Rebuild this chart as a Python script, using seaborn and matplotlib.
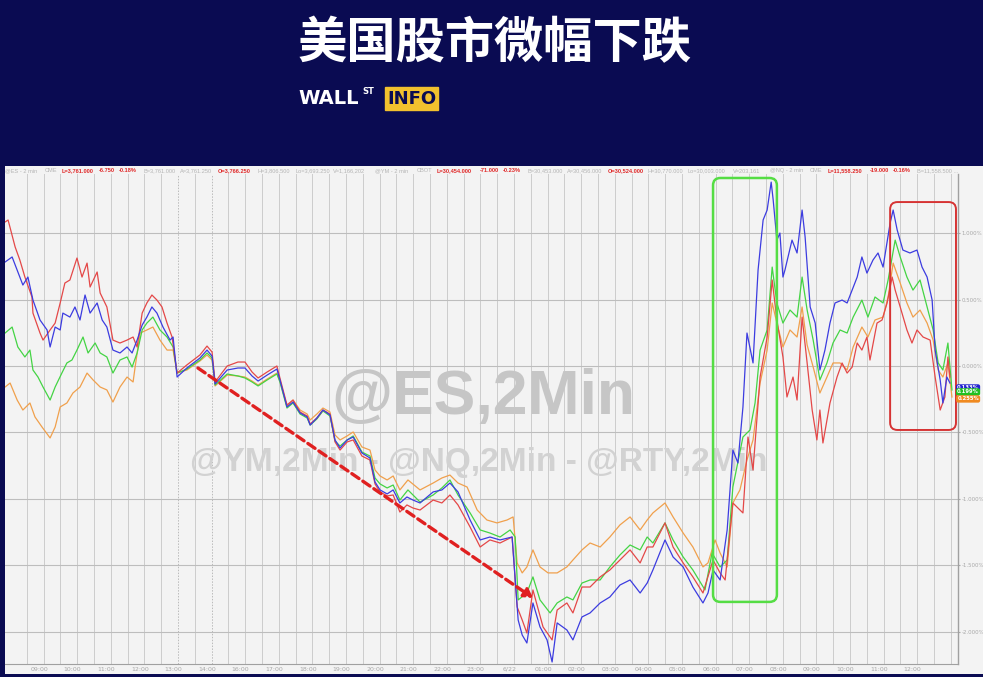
import matplotlib
matplotlib.use("Agg")
import matplotlib.pyplot as plt
from matplotlib.patches import Rectangle, FancyBboxPatch
import seaborn as sns
import pandas as pd

# ---------------- data (hours from 09:00 slot, % change) ----------------
x_labels = ['09:00','10:00','11:00','12:00','13:00','14:00','16:00','17:00','18:00','19:00',
            '20:00','21:00','22:00','23:00','6/22','01:00','02:00','03:00','04:00','05:00',
            '06:00','07:00','08:00','09:00','10:00','11:00','12:00']
y_ticks = [-2.0, -1.5, -1.0, -0.5, 0.0, 0.5, 1.0]

red_t = [-1.01,-0.92,-0.71,-0.57,-0.42,-0.21,-0.18,0.03,0.12,0.33,0.48,0.63,0.77,0.92,1.13,1.28,1.43,1.52,1.73,1.82,
         2.02,2.20,2.41,2.62,2.80,2.92,3.07,3.21,3.36,3.51,3.66,3.81,3.96,4.11,4.40,4.79,5.00,5.15,5.24,5.60,
         5.92,6.13,6.34,6.52,6.79,7.08,7.17,7.38,7.56,7.77,7.98,8.07,8.27,8.45,8.66,8.81,8.96,9.17,9.35,9.61,
         9.85,10.00,10.15,10.36,10.54,10.74,10.95,11.13,11.34,11.73,11.99,12.23,12.47,12.83,13.13,13.42,13.72,14.08,14.23,14.38,
         14.52,14.70,15.00,15.27,15.42,15.71,15.89,16.16,16.40,16.70,16.99,17.29,17.59,17.89,18.10,18.27,18.63,18.87,19.17,19.46,
         19.76,20.06,20.27,20.42,20.65,20.95,21.10,21.25,21.46,21.67,21.82,21.96,22.14,22.26,22.44,22.56,22.71,22.86,23.01,23.15,
         23.24,23.33,23.54,23.75,23.90,24.05,24.20,24.35,24.49,24.64,24.73,24.94,25.09,25.24,25.39,25.48,25.63,25.83,25.98,26.13,
         26.31,26.52,26.67,26.82,26.96,27.05,27.11]
red_v = [1.083,1.098,0.895,0.797,0.669,0.519,0.398,0.248,0.195,0.271,0.323,0.474,0.624,0.647,0.812,0.669,0.774,0.594,0.707,0.549,
         0.444,0.195,0.173,0.195,0.218,0.143,0.398,0.474,0.534,0.496,0.444,0.323,0.218,-0.053,0.008,0.083,0.150,0.105,-0.120,0.000,
         0.030,0.030,-0.045,-0.090,-0.045,0.000,-0.090,-0.293,-0.256,-0.346,-0.376,-0.436,-0.391,-0.331,-0.361,-0.571,-0.632,-0.571,-0.556,-0.677,
         -0.707,-0.887,-0.947,-0.977,-0.970,-1.098,-1.045,-1.068,-1.083,-1.008,-1.030,-0.970,-1.045,-1.211,-1.361,-1.308,-1.331,-1.286,-1.812,-1.910,
         -2.008,-1.684,-1.962,-2.060,-1.835,-1.782,-1.857,-1.662,-1.662,-1.586,-1.534,-1.459,-1.383,-1.481,-1.361,-1.361,-1.180,-1.361,-1.481,-1.586,
         -1.707,-1.459,-1.556,-1.609,-1.030,-1.105,-0.534,-0.782,-0.083,0.218,0.647,0.346,0.068,-0.233,-0.083,-0.256,0.368,0.023,-0.331,-0.556,
         -0.331,-0.579,-0.278,-0.083,0.023,-0.053,-0.008,0.173,0.120,0.218,0.045,0.323,0.346,0.474,0.669,0.571,0.444,0.271,0.173,0.271,
         0.218,0.195,-0.083,-0.331,-0.233,0.068,-0.083]

blue_t = [-1.01,-0.80,-0.65,-0.48,-0.33,-0.18,0.03,0.24,0.33,0.48,0.63,0.71,0.92,1.07,1.22,1.37,1.52,1.73,1.88,2.02,
          2.20,2.41,2.62,2.77,2.92,3.07,3.21,3.36,3.51,3.69,3.90,3.99,4.11,4.40,4.79,5.00,5.15,5.24,5.60,5.92,
          6.13,6.34,6.52,6.79,7.08,7.17,7.38,7.56,7.77,7.98,8.07,8.27,8.45,8.66,8.81,8.96,9.17,9.35,9.61,9.85,
          10.00,10.15,10.36,10.54,10.74,10.95,11.13,11.34,11.73,11.99,12.23,12.47,12.83,13.13,13.42,13.72,14.08,14.26,14.38,14.52,
          14.70,14.91,15.12,15.27,15.42,15.71,15.89,16.16,16.40,16.70,16.99,17.29,17.59,17.89,18.10,18.27,18.63,18.87,19.17,19.46,
          19.76,19.91,20.06,20.27,20.48,20.65,20.80,20.95,21.07,21.25,21.40,21.55,21.67,21.79,21.85,21.96,22.05,22.14,22.20,22.41,
          22.56,22.71,22.80,22.95,23.10,23.24,23.39,23.54,23.69,23.90,24.05,24.20,24.35,24.49,24.64,24.82,24.97,25.12,25.33,25.42,
          25.54,25.71,25.92,26.13,26.28,26.43,26.58,26.67,26.82,26.90,27.02,27.11]
blue_v = [0.782,0.820,0.722,0.609,0.669,0.496,0.346,0.271,0.143,0.293,0.271,0.398,0.368,0.444,0.346,0.534,0.398,0.474,0.346,0.293,
          0.120,0.098,0.143,0.098,0.195,0.308,0.368,0.444,0.398,0.293,0.195,0.218,-0.083,-0.015,0.060,0.120,0.075,-0.135,-0.030,-0.015,
          -0.015,-0.075,-0.113,-0.068,-0.023,-0.105,-0.308,-0.271,-0.353,-0.383,-0.444,-0.391,-0.331,-0.368,-0.556,-0.617,-0.556,-0.534,-0.654,-0.692,
          -0.872,-0.932,-0.962,-0.932,-1.030,-0.985,-1.008,-1.030,-0.947,-0.932,-0.880,-0.947,-1.158,-1.308,-1.286,-1.308,-1.286,-1.910,-2.023,-2.083,
          -1.782,-1.962,-2.060,-2.226,-1.932,-1.985,-2.060,-1.887,-1.857,-1.782,-1.737,-1.647,-1.609,-1.707,-1.632,-1.534,-1.308,-1.436,-1.511,-1.662,
          -1.782,-1.707,-1.534,-1.609,-1.233,-0.632,-0.729,-0.308,0.248,0.023,0.722,1.098,1.173,1.383,1.248,0.947,1.000,0.669,0.722,0.947,
          0.850,1.173,0.970,0.444,0.323,-0.030,0.120,0.323,0.474,0.496,0.474,0.571,0.669,0.820,0.699,0.797,0.850,0.744,1.075,1.173,
          1.023,0.872,0.850,0.872,0.744,0.669,0.496,0.120,-0.105,-0.278,-0.083,-0.128]

green_t = [-1.01,-0.80,-0.63,-0.42,-0.27,-0.18,-0.03,0.12,0.33,0.48,0.68,0.83,0.98,1.13,1.31,1.46,1.67,1.82,2.02,2.20,
           2.41,2.62,2.77,2.92,3.07,3.21,3.39,3.60,3.81,3.99,4.11,4.40,4.79,5.00,5.15,5.24,5.60,5.92,6.13,6.34,
           6.52,6.79,7.08,7.17,7.38,7.56,7.77,7.98,8.07,8.27,8.45,8.66,8.81,8.96,9.17,9.35,9.61,9.85,10.00,10.15,
           10.36,10.54,10.74,10.98,11.34,11.73,11.99,12.23,12.47,12.83,13.13,13.42,13.72,14.02,14.17,14.26,14.52,14.70,14.91,15.21,
           15.42,15.71,15.89,16.16,16.40,16.70,16.99,17.29,17.59,17.89,18.10,18.27,18.63,18.87,19.17,19.46,19.82,20.03,20.27,20.48,
           20.65,20.95,21.16,21.31,21.46,21.67,21.82,21.96,22.14,22.35,22.56,22.71,22.86,23.04,23.24,23.45,23.63,23.84,24.05,24.23,
           24.49,24.67,24.88,25.12,25.27,25.48,25.63,25.83,26.01,26.22,26.43,26.61,26.76,26.90,27.05,27.17]
green_v = [0.248,0.293,0.143,0.068,0.120,-0.030,-0.083,-0.158,-0.256,-0.158,-0.053,0.023,0.045,0.120,0.218,0.098,0.173,0.098,0.068,-0.053,
           0.045,0.068,-0.008,0.098,0.271,0.323,0.368,0.271,0.218,0.143,-0.053,-0.023,0.045,0.098,0.060,-0.143,-0.060,-0.075,-0.090,-0.120,
           -0.150,-0.105,-0.060,-0.120,-0.316,-0.278,-0.361,-0.391,-0.444,-0.398,-0.338,-0.376,-0.564,-0.602,-0.556,-0.526,-0.647,-0.677,-0.842,-0.887,
           -0.917,-0.895,-1.008,-0.932,-1.023,-0.970,-0.917,-0.857,-0.970,-1.105,-1.233,-1.256,-1.286,-1.233,-1.286,-1.759,-1.707,-1.586,-1.759,-1.857,
           -1.782,-1.737,-1.759,-1.632,-1.609,-1.609,-1.511,-1.421,-1.346,-1.383,-1.286,-1.331,-1.180,-1.308,-1.436,-1.534,-1.684,-1.406,-1.511,-1.459,
           -0.910,-0.534,-0.481,-0.278,0.120,0.271,0.744,0.474,0.323,0.421,0.368,0.669,0.421,0.195,-0.105,0.023,0.173,0.271,0.248,0.368,
           0.496,0.368,0.519,0.474,0.647,0.947,0.820,0.669,0.571,0.647,0.444,0.271,0.023,-0.030,0.173,-0.180]

orange_t = [-1.01,-0.86,-0.65,-0.48,-0.27,-0.12,0.09,0.33,0.48,0.63,0.83,1.01,1.22,1.43,1.61,1.82,2.02,2.20,2.41,2.62,
            2.80,2.86,3.01,3.21,3.39,3.60,3.81,3.99,4.11,4.40,4.79,5.00,5.15,5.24,5.60,5.92,6.13,6.34,6.52,6.79,
            7.08,7.17,7.38,7.56,7.77,7.98,8.07,8.27,8.45,8.66,8.81,8.96,9.17,9.35,9.61,9.85,10.00,10.15,10.36,10.54,
            10.74,10.98,11.34,11.73,11.99,12.23,12.47,12.74,13.04,13.33,13.63,13.93,14.11,14.23,14.38,14.52,14.70,14.91,15.15,15.42,
            15.71,15.89,16.16,16.40,16.70,16.99,17.29,17.59,17.89,18.10,18.27,18.63,18.87,19.17,19.46,19.76,19.91,20.12,20.27,20.48,
            20.65,20.86,21.07,21.25,21.46,21.67,21.82,21.96,22.14,22.35,22.56,22.71,22.86,23.04,23.24,23.45,23.63,23.84,24.05,24.23,
            24.49,24.67,24.88,25.12,25.27,25.42,25.63,25.83,26.01,26.22,26.43,26.61,26.76,26.90,27.05,27.17]
orange_v = [-0.158,-0.128,-0.256,-0.331,-0.278,-0.383,-0.459,-0.541,-0.459,-0.308,-0.278,-0.203,-0.158,-0.053,-0.105,-0.158,-0.180,-0.271,-0.158,-0.083,
            -0.120,-0.008,0.248,0.271,0.293,0.195,0.120,0.120,-0.053,-0.030,0.038,0.083,0.045,-0.150,-0.068,-0.075,-0.083,-0.113,-0.143,-0.098,
            -0.053,-0.113,-0.301,-0.256,-0.331,-0.361,-0.406,-0.361,-0.316,-0.346,-0.519,-0.556,-0.526,-0.496,-0.609,-0.632,-0.782,-0.827,-0.857,-0.827,
            -0.932,-0.857,-0.932,-0.880,-0.842,-0.820,-0.880,-0.910,-1.083,-1.158,-1.180,-1.158,-1.135,-1.481,-1.556,-1.511,-1.383,-1.511,-1.556,-1.556,
            -1.511,-1.459,-1.383,-1.331,-1.361,-1.286,-1.195,-1.135,-1.233,-1.158,-1.105,-1.030,-1.135,-1.256,-1.361,-1.511,-1.481,-1.308,-1.406,-1.511,
            -1.030,-0.932,-0.707,-0.556,-0.128,0.120,0.474,0.323,0.143,0.271,0.218,0.444,0.158,-0.008,-0.203,-0.083,0.023,0.023,-0.030,0.143,
            0.293,0.218,0.346,0.368,0.519,0.774,0.624,0.474,0.368,0.421,0.323,0.195,-0.030,-0.083,0.023,-0.233]

end_labels = ['0.133%', '0.199%', '0.255%']
end_values = [-0.165, -0.195, -0.248]

info_items = [  # (x px, text, is_red)
    (5, '@ES - 2 min', False), (45, 'CME', False), (62, 'L=3,761.000', True), (99, '-6.750', True),
    (119, '-0.18%', True), (144, 'B=3,761.000', False), (180, 'A=3,761.250', False), (218, 'O=3,766.250', True),
    (257, 'H=3,806.500', False), (295, 'Lo=3,693.250', False), (333, 'V=1,166,202', False),
    (375, '@YM - 2 min', False), (417, 'CBOT', False), (437, 'L=30,454.000', True), (480, '-71.000', True),
    (503, '-0.23%', True), (527, 'B=30,453.000', False), (567, 'A=30,456.000', False), (608, 'O=30,524.000', True),
    (647, 'H=30,770.000', False), (688, 'Lo=30,003.000', False), (733, 'V=203,161', False),
    (770, '@NQ - 2 min', False), (810, 'CME', False), (828, 'L=11,558.250', True), (870, '-19.000', True),
    (893, '-0.16%', True), (917, 'B=11,558.500 ...', False),
]

for a, b in [(red_t, red_v), (blue_t, blue_v), (green_t, green_v), (orange_t, orange_v)]:
    assert len(a) == len(b), (len(a), len(b))

frames = []
for name, t, v in [('orange', orange_t, orange_v), ('green', green_t, green_v),
                   ('red', red_t, red_v), ('blue', blue_t, blue_v)]:
    frames.append(pd.DataFrame({'t': t, 'v': v, 's': name}))
df = pd.concat(frames, ignore_index=True)

palette = {'orange': '#f0a04c', 'green': '#44d444', 'red': '#e44848', 'blue': '#3c3ce0'}

# ---------------- figure ----------------
W, H = 983, 677
NAVY = '#0a0b52'
fig = plt.figure(figsize=(W / 100, H / 100), dpi=100, facecolor=NAVY)

def fx(px):
    return px / W

def fy(py):
    return 1 - py / H

# light chart panel
fig.add_artist(Rectangle((fx(5), fy(674)), fx(W - 5), (674 - 166) / H,
                         transform=fig.transFigure, facecolor='#f3f3f3', edgecolor='none', zorder=0))

ax = fig.add_axes([fx(5), fy(664), (958 - 5) / W, (664 - 174) / H])
ax.set_facecolor('#f3f3f3')

sns.lineplot(data=df, x='t', y='v', hue='s', hue_order=['orange', 'green', 'red', 'blue'],
             palette=palette, estimator=None, sort=False, legend=False, lw=0.9, ax=ax, zorder=3)

ax.set_xlim(-1.012, 27.35)
ax.set_ylim(-2.241, 1.444)
ax.set_xlabel('')
ax.set_ylabel('')

# grid
ax.set_axisbelow(True)
ax.set_xticks(range(len(x_labels)))
ax.set_xticklabels(x_labels)
grid_pos = [-0.366 + 0.5 * k for k in range(57) if -0.366 + 0.5 * k < 27.3]
dotted = [grid_pos[9], grid_pos[11]]
solid = [g for i, g in enumerate(grid_pos) if i not in (9, 11)]
ax.set_xticks(solid, minor=True)
ax.grid(True, which='minor', axis='x', color='#cccccc', lw=0.7)
for d in dotted:
    ax.axvline(d, color='#bbbbbb', lw=0.7, ls=(0, (1.5, 1.5)), zorder=0.5)
ax.tick_params(axis='x', which='both', length=0, labelsize=4.5, labelcolor='#a8a8a8', pad=2)

ax.set_yticks(y_ticks)
ax.set_yticklabels([f'{v:.3f}%' for v in y_ticks])
ax.yaxis.tick_right()
ax.grid(True, which='major', axis='y', color='#bdbdbd', lw=0.8)
ax.tick_params(axis='y', length=1.5, color='#a8a8a8', labelsize=3.9, labelcolor='#a8a8a8', pad=1)

for s in ['top', 'left']:
    ax.spines[s].set_visible(False)
ax.spines['right'].set_color('#a0a0a0')
ax.spines['bottom'].set_color('#a0a0a0')
ax.spines['right'].set_linewidth(1.0)
ax.spines['bottom'].set_linewidth(0.8)

# watermarks
ax.text(fx(483), fy(398), '@ES,2Min', transform=fig.transFigure, ha='center', va='center',
        fontsize=45, fontweight='bold', family='Liberation Sans', color='#c6c6c6', zorder=1)
ax.text(fx(479), fy(462), '@YM,2Min - @NQ,2Min - @RTY,2Min', transform=fig.transFigure,
        ha='center', va='center', fontsize=24, fontweight='bold', family='Liberation Sans',
        color='#d2d2d2', zorder=1)

# red dashed arrow
ax.annotate('', xy=(14.70, -1.744), xytext=(4.73, -0.015),
            arrowprops=dict(arrowstyle='-|>,head_length=0.5,head_width=0.3', color='#e02020',
                            lw=2.4, linestyle=(0, (2.6, 1.4)), shrinkA=0, shrinkB=0), zorder=5)

# highlight boxes
ax.add_patch(FancyBboxPatch((20.06, -1.774), 1.90, 3.188,
                            boxstyle='round,pad=0,rounding_size=0.22', mutation_aspect=0.25,
                            ec='#55dd44', fc='none', lw=1.8, zorder=6, clip_on=False))
ax.add_patch(FancyBboxPatch((25.33, -0.481), 1.96, 1.714,
                            boxstyle='round,pad=0,rounding_size=0.22', mutation_aspect=0.25,
                            ec='#d63333', fc='none', lw=1.4, zorder=6, clip_on=False))

# end labels (right side tags)
for txt, val, col in zip(end_labels, end_values, ['#2222d0', '#22c022', '#f08a20']):
    yfig = ax.transData.transform((0, val))[1] / fig.dpi / fig.get_figheight()
    fig.text(fx(979), yfig, txt, fontsize=3.8, color='white', fontweight='bold', va='center', ha='right',
             zorder=7, bbox=dict(boxstyle='round,pad=0.22,rounding_size=0.4', fc=col, ec='none'))

# info strip
for px, txt, is_red in info_items:
    fig.text(fx(px), fy(170.5), txt, fontsize=4.1, va='center', ha='left', family='Liberation Sans',
             color='#e02828' if is_red else '#b4b4b4', fontweight='bold' if is_red else 'normal')

# title and logo
fig.text(fx(495), fy(44), '美国股市微幅下跌', fontsize=35.5, fontweight='bold', color='white',
         family=['Noto Sans CJK SC', 'DejaVu Sans'], ha='center', va='center')
fig.text(fx(298), fy(99), 'WALL', fontsize=14, fontweight='heavy', color='white',
         family='DejaVu Sans', ha='left', va='center')
fig.text(fx(362), fy(92), 'ST', fontsize=6, fontweight='bold', color='white',
         family='DejaVu Sans', ha='left', va='center')
fig.text(fx(387), fy(98.5), 'INFO', fontsize=13, fontweight='heavy', color=NAVY,
         family='DejaVu Sans', ha='left', va='center',
         bbox=dict(boxstyle='square,pad=0.12', fc='#f2c12e', ec='#f2c12e'))

fig.savefig('out.png', dpi=100, facecolor=NAVY)
